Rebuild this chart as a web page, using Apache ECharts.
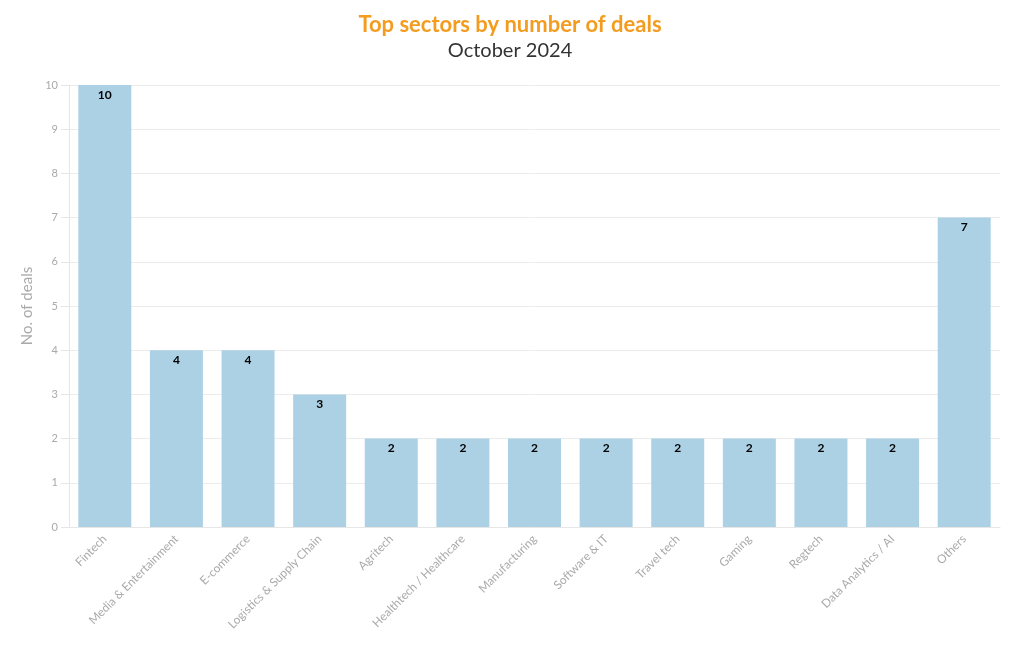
<!DOCTYPE html>
<html><head><meta charset="utf-8">
<script src="https://cdn.jsdelivr.net/npm/echarts@6/dist/echarts.min.js"></script>
<style>html,body{margin:0;padding:0;background:#fff}#c{width:1020px;height:650px}</style>
</head><body><div id="c"></div>
<script>
const categories = ["Fintech","Media & Entertainment","E-commerce","Logistics & Supply Chain","Agritech","Healthtech / Healthcare","Manufacturing","Software & IT","Travel tech","Gaming","Regtech","Data Analytics / AI","Others"];
const deals = [10,4,4,3,2,2,2,2,2,2,2,2,7];
const FONT = "Lato, 'Noto Sans', sans-serif";
const chart = echarts.init(document.getElementById('c'));
chart.setOption({
  animation:false,
  textStyle:{fontFamily:FONT},
  title:{
    left:'center', top:9, itemGap:5,
    text:'Top sectors by number of deals',
    textStyle:{color:'#f39c1f',fontSize:22,fontWeight:'bold',fontFamily:FONT},
    subtext:'October 2024',
    subtextStyle:{color:'#333',fontSize:20,fontFamily:FONT}
  },
  grid:{left:69,right:20,top:85,bottom:123},
  xAxis:{
    type:'category', data:categories,
    axisLine:{lineStyle:{color:'#e6e6e6'}},
    axisTick:{alignWithLabel:true,lineStyle:{color:'#e6e6e6'},length:8},
    axisLabel:{rotate:45,color:'#aaa',fontSize:11.8,interval:0,margin:10,fontFamily:FONT}
  },
  yAxis:{
    type:'value', min:0, max:10, interval:1,
    name:'No. of deals', nameLocation:'middle', nameGap:34,
    nameTextStyle:{color:'#aaa',fontSize:15,fontFamily:FONT},
    axisLine:{show:true,lineStyle:{color:'#dde8f0'}},
    axisTick:{show:true,length:8,lineStyle:{color:'#e6e6e6'}},
    axisLabel:{color:'#aaa',fontSize:11,margin:11,fontFamily:FONT},
    splitLine:{lineStyle:{color:'#ececec'}}
  },
  series:[{
    type:'bar', data:deals, barCategoryGap:'26%',
    itemStyle:{color:'#acd1e5'},
    label:{show:true,position:'insideTop',distance:4,color:'#000',fontWeight:'bold',fontSize:12,fontFamily:FONT}
  }]
});
</script></body></html>
